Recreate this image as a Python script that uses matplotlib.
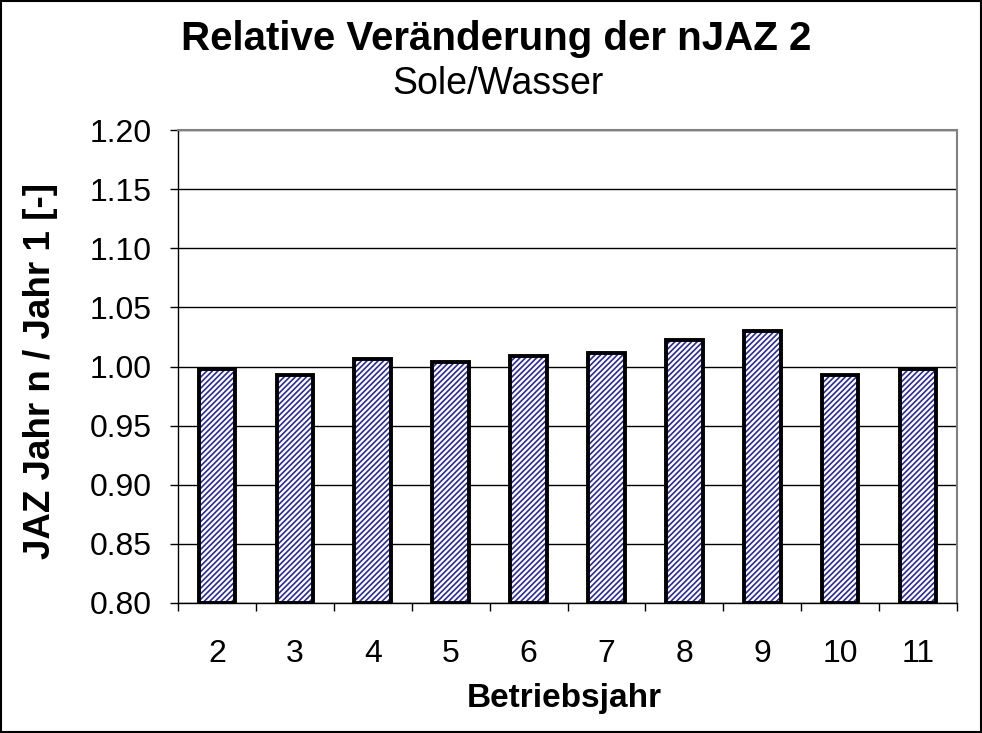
import matplotlib
matplotlib.use("Agg")
import matplotlib.pyplot as plt
import numpy as np

plt.rcParams['font.family'] = ['Liberation Sans', 'DejaVu Sans']
plt.rcParams['hatch.linewidth'] = 1.2

categories = ['2', '3', '4', '5', '6', '7', '8', '9', '10', '11']
values = [0.998, 0.993, 1.006, 1.004, 1.009, 1.011, 1.022, 1.030, 0.993, 0.998]
yticks = [0.80, 0.85, 0.90, 0.95, 1.00, 1.05, 1.10, 1.15, 1.20]

W, H = 982, 733
fig = plt.figure(figsize=(W / 100, H / 100), dpi=100)
ax = fig.add_axes([178 / W, 1 - 603 / H, (957 - 178) / W, (603 - 130) / H])

x = np.arange(len(categories))
ax.bar(x, [v - 0.8 for v in values], bottom=0.8, width=0.47, color='white',
       edgecolor='#2a2a9a', hatch='//////', linewidth=0, zorder=3)
ax.bar(x, [v - 0.8 for v in values], bottom=0.8, width=0.47, fill=False,
       edgecolor='black', linewidth=2.8, zorder=4)

ax.set_xlim(-0.5, len(categories) - 0.5)
ax.set_ylim(0.8, 1.2)
ax.set_yticks(yticks)
ax.set_yticklabels([f'{t:.2f}' for t in yticks], fontsize=23)
ax.set_xticks(x)
ax.set_xticklabels(categories, fontsize=23)
ax.set_xticks(np.arange(-0.5, len(categories), 1), minor=True)
ax.tick_params(axis='x', which='major', length=0, pad=26)
ax.tick_params(axis='x', which='minor', length=6, width=1, color='black')
ax.tick_params(axis='y', length=6, width=1, pad=13)
ax.yaxis.grid(True, color='black', linewidth=1, zorder=0)
ax.set_axisbelow(True)
for s in ['top', 'right']:
    ax.spines[s].set_color('#808080')
    ax.spines[s].set_linewidth(1.5)
for s in ['left', 'bottom']:
    ax.spines[s].set_color('black')
    ax.spines[s].set_linewidth(1)

fig.text(564 / W, 1 - 698 / H, 'Betriebsjahr', ha='center', va='center',
         fontsize=24, fontweight='bold')
fig.text(41 / W, 1 - 371 / H, 'JAZ Jahr n / Jahr 1 [-]', ha='center', va='center',
         rotation=90, fontsize=26.5, fontweight='bold')

fig.text(496 / W, 1 - 39 / H, 'Relative Veränderung der nJAZ 2', ha='center', va='center',
         fontsize=29, fontweight='bold')
fig.text(498 / W, 1 - 84 / H, 'Sole/Wasser', ha='center', va='center', fontsize=27)

fig.patches.append(plt.Rectangle((0.001, 0.001), 0.998, 0.998, transform=fig.transFigure,
                                 fill=False, edgecolor='black', linewidth=1.5))
fig.savefig('out.png', dpi=100)
